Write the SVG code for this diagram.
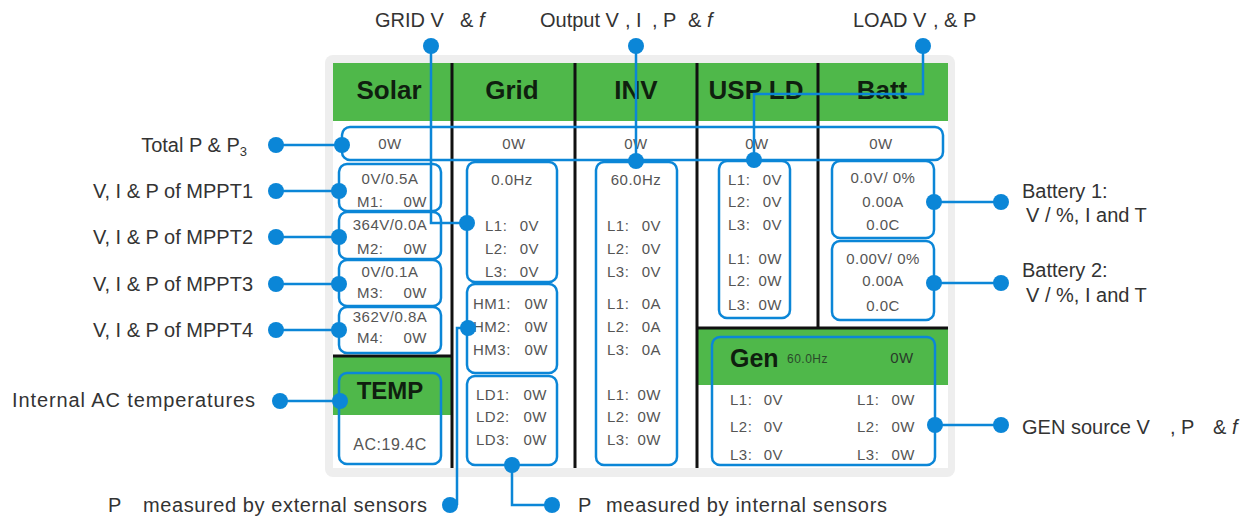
<svg xmlns="http://www.w3.org/2000/svg" width="1254" height="519" viewBox="0 0 1254 519">
<style>
.lbl{font-family:"Liberation Sans",Arial,sans-serif;font-size:20px;fill:#333}
.t{font-family:"Liberation Sans",Arial,sans-serif;font-size:15px;fill:#555;letter-spacing:0.5px}
.hd{font-family:"Liberation Sans",Arial,sans-serif;font-size:26px;font-weight:bold;fill:#0f1f0f;text-anchor:middle}
.m{text-anchor:middle}
.e{text-anchor:end}
.box{fill:none;stroke:#0b86d7;stroke-width:2.5}
.sep{stroke:#111;stroke-width:3}
.green{fill:#4fb84a}
.con{fill:none;stroke:#0b86d7;stroke-width:2.5}
.dot{fill:#0b86d7}
</style>

<g id="screen">
  <rect x="325" y="55" width="630" height="422" rx="8" fill="#eeeeee"/>
  <rect x="333" y="63" width="615" height="405" fill="#ffffff"/>
  <rect class="green" x="333" y="63" width="615" height="58"/>
  <rect class="green" x="333" y="357" width="119" height="58"/>
  <rect class="green" x="697" y="328" width="251" height="57"/>
  <line class="sep" x1="452" y1="63" x2="452" y2="468"/>
  <line class="sep" x1="575" y1="63" x2="575" y2="468"/>
  <line class="sep" x1="697" y1="63" x2="697" y2="468"/>
  <line class="sep" x1="818" y1="63" x2="818" y2="328"/>
  <line class="sep" x1="333" y1="356" x2="452" y2="356"/>
  <line class="sep" x1="697" y1="328" x2="948" y2="328"/>
  <text class="hd" x="389" y="99">Solar</text>
  <text class="hd" x="512" y="99">Grid</text>
  <text class="hd" x="636" y="99">INV</text>
  <text class="hd" x="756" y="99">USP LD</text>
  <text class="hd" x="882" y="99">Batt</text>
</g>

<g id="total-row">
  <rect class="box" x="342" y="127" width="601" height="33" rx="8"/>
  <text class="t m" x="390" y="149">0W</text>
  <text class="t m" x="514" y="149">0W</text>
  <text class="t m" x="636" y="149">0W</text>
  <text class="t m" x="757" y="149">0W</text>
  <text class="t m" x="881" y="149">0W</text>
</g>

<g id="mppt1">
  <rect class="box" x="339" y="164" width="102" height="47" rx="8"/>
  <text class="t m" x="390" y="184">0V/0.5A</text>
  <text class="t" x="357" y="207">M1:</text><text class="t e" x="427" y="207">0W</text>
</g>
<g id="mppt2">
  <rect class="box" x="339" y="212" width="102" height="47" rx="8"/>
  <text class="t m" x="390" y="230">364V/0.0A</text>
  <text class="t" x="357" y="254">M2:</text><text class="t e" x="427" y="254">0W</text>
</g>
<g id="mppt3">
  <rect class="box" x="339" y="260" width="102" height="46" rx="8"/>
  <text class="t m" x="390" y="277">0V/0.1A</text>
  <text class="t" x="357" y="298">M3:</text><text class="t e" x="427" y="298">0W</text>
</g>
<g id="mppt4">
  <rect class="box" x="339" y="307" width="102" height="46" rx="8"/>
  <text class="t m" x="390" y="322">362V/0.8A</text>
  <text class="t" x="357" y="343">M4:</text><text class="t e" x="427" y="343">0W</text>
</g>
<g id="temp">
  <rect class="box" x="339" y="373" width="102" height="91" rx="8"/>
  <text class="hd" x="390" y="399" style="font-size:24px">TEMP</text>
  <text class="t m" x="390" y="450" style="font-size:16px">AC:19.4C</text>
</g>

<g id="grid-box">
  <rect class="box" x="467" y="162" width="90" height="120" rx="8"/>
  <text class="t m" x="512" y="185">0.0Hz</text>
  <text class="t" x="485" y="231">L1:</text><text class="t e" x="539" y="231">0V</text>
  <text class="t" x="485" y="254">L2:</text><text class="t e" x="539" y="254">0V</text>
  <text class="t" x="485" y="277">L3:</text><text class="t e" x="539" y="277">0V</text>
</g>
<g id="hm-box">
  <rect class="box" x="467" y="284" width="90" height="89" rx="8"/>
  <text class="t" x="473" y="309">HM1:</text><text class="t e" x="548" y="309">0W</text>
  <text class="t" x="473" y="332">HM2:</text><text class="t e" x="548" y="332">0W</text>
  <text class="t" x="473" y="355">HM3:</text><text class="t e" x="548" y="355">0W</text>
</g>
<g id="ld-box">
  <rect class="box" x="467" y="376" width="90" height="89" rx="8"/>
  <text class="t" x="476" y="400">LD1:</text><text class="t e" x="547" y="400">0W</text>
  <text class="t" x="476" y="422">LD2:</text><text class="t e" x="547" y="422">0W</text>
  <text class="t" x="476" y="445">LD3:</text><text class="t e" x="547" y="445">0W</text>
</g>

<g id="inv-box">
  <rect class="box" x="596" y="162" width="81" height="303" rx="8"/>
  <text class="t m" x="636" y="185">60.0Hz</text>
  <text class="t" x="607" y="231">L1:</text><text class="t e" x="661" y="231">0V</text>
  <text class="t" x="607" y="254">L2:</text><text class="t e" x="661" y="254">0V</text>
  <text class="t" x="607" y="277">L3:</text><text class="t e" x="661" y="277">0V</text>
  <text class="t" x="607" y="309">L1:</text><text class="t e" x="661" y="309">0A</text>
  <text class="t" x="607" y="332">L2:</text><text class="t e" x="661" y="332">0A</text>
  <text class="t" x="607" y="355">L3:</text><text class="t e" x="661" y="355">0A</text>
  <text class="t" x="607" y="400">L1:</text><text class="t e" x="661" y="400">0W</text>
  <text class="t" x="607" y="422">L2:</text><text class="t e" x="661" y="422">0W</text>
  <text class="t" x="607" y="445">L3:</text><text class="t e" x="661" y="445">0W</text>
</g>

<g id="usp-box">
  <rect class="box" x="719" y="161" width="71" height="157" rx="8"/>
  <text class="t" x="728" y="185">L1:</text><text class="t e" x="782" y="185">0V</text>
  <text class="t" x="728" y="207">L2:</text><text class="t e" x="782" y="207">0V</text>
  <text class="t" x="728" y="230">L3:</text><text class="t e" x="782" y="230">0V</text>
  <text class="t" x="728" y="264">L1:</text><text class="t e" x="782" y="264">0W</text>
  <text class="t" x="728" y="286">L2:</text><text class="t e" x="782" y="286">0W</text>
  <text class="t" x="728" y="310">L3:</text><text class="t e" x="782" y="310">0W</text>
</g>

<g id="batt1">
  <rect class="box" x="832" y="161" width="102" height="77" rx="8"/>
  <text class="t m" x="883" y="183">0.0V/ 0%</text>
  <text class="t m" x="883" y="207">0.00A</text>
  <text class="t m" x="883" y="230">0.0C</text>
</g>
<g id="batt2">
  <rect class="box" x="832" y="241" width="102" height="79" rx="8"/>
  <text class="t m" x="883" y="264">0.00V/ 0%</text>
  <text class="t m" x="883" y="286">0.00A</text>
  <text class="t m" x="883" y="311">0.0C</text>
</g>

<g id="gen-box">
  <rect class="box" x="712" y="337" width="223" height="128" rx="8"/>
  <text class="hd" x="730" y="367" style="font-size:25px;text-anchor:start">Gen</text>
  <text class="t" x="787" y="363" style="font-size:12px;fill:#2a4a2a">60.0Hz</text>
  <text class="t m" x="902" y="363" style="fill:#2a3a2a">0W</text>
  <text class="t" x="730" y="405">L1:</text><text class="t e" x="783" y="405">0V</text>
  <text class="t" x="730" y="432">L2:</text><text class="t e" x="783" y="432">0V</text>
  <text class="t" x="730" y="460">L3:</text><text class="t e" x="783" y="460">0V</text>
  <text class="t" x="857" y="405">L1:</text><text class="t e" x="915" y="405">0W</text>
  <text class="t" x="857" y="432">L2:</text><text class="t e" x="915" y="432">0W</text>
  <text class="t" x="857" y="460">L3:</text><text class="t e" x="915" y="460">0W</text>
</g>

<g id="label-grid"><text class="lbl" x="375" y="27">GRID V<tspan x="460">&amp; </tspan><tspan font-style="italic">f</tspan></text></g>
<g id="label-output"><text class="lbl" x="540" y="27">Output V<tspan x="625">, I</tspan><tspan x="652">, P</tspan><tspan x="688">&amp; </tspan><tspan font-style="italic">f</tspan></text></g>
<g id="label-load"><text class="lbl" x="853" y="27">LOAD V<tspan x="933">, &amp; P</tspan></text></g>
<g id="label-total"><text class="lbl e" x="247" y="152">Total P &amp; P<tspan font-size="13" dy="4">3</tspan></text></g>
<g id="label-mppt1"><text class="lbl e" x="253" y="198">V, I &amp; P of MPPT1</text></g>
<g id="label-mppt2"><text class="lbl e" x="253" y="244">V, I &amp; P of MPPT2</text></g>
<g id="label-mppt3"><text class="lbl e" x="253" y="291">V, I &amp; P of MPPT3</text></g>
<g id="label-mppt4"><text class="lbl e" x="253" y="337">V, I &amp; P of MPPT4</text></g>
<g id="label-temp"><text class="lbl" x="12" y="407" textLength="243" lengthAdjust="spacing">Internal AC temperatures</text></g>
<g id="label-batt1"><text class="lbl" x="1022" y="198">Battery 1:</text><text class="lbl" x="1026" y="222">V / %, I and T</text></g>
<g id="label-batt2"><text class="lbl" x="1022" y="277">Battery 2:</text><text class="lbl" x="1026" y="302">V / %, I and T</text></g>
<g id="label-gen"><text class="lbl" x="1022" y="434">GEN source V<tspan x="1170">, P</tspan><tspan x="1213">&amp; </tspan><tspan font-style="italic">f</tspan></text></g>
<g id="label-external"><text class="lbl" x="108" y="512">P</text><text class="lbl" x="143" y="512" textLength="284" lengthAdjust="spacing">measured by external sensors</text></g>
<g id="label-internal"><text class="lbl" x="578" y="512">P</text><text class="lbl" x="606" y="512" textLength="281" lengthAdjust="spacing">measured by internal sensors</text></g>

<g id="connectors">
  <path class="con" d="M431,46 V223 H467"/>
  <path class="con" d="M636,46 V161"/>
  <path class="con" d="M923,46 V94 H754 V160"/>
  <path class="con" d="M276,145 H342"/>
  <path class="con" d="M276,191 H339"/>
  <path class="con" d="M276,237 H339"/>
  <path class="con" d="M276,284 H339"/>
  <path class="con" d="M276,330 H339"/>
  <path class="con" d="M280,401 H340"/>
  <path class="con" d="M934,202 H1001"/>
  <path class="con" d="M934,283 H1001"/>
  <path class="con" d="M935,425 H1001"/>
  <path class="con" d="M457,505 V328 H468"/>
  <path class="con" d="M512,465 V505 H552"/>
  <circle class="dot" cx="431" cy="46" r="8"/><circle class="dot" cx="467" cy="223" r="8"/>
  <circle class="dot" cx="636" cy="46" r="8"/><circle class="dot" cx="636" cy="161" r="8"/>
  <circle class="dot" cx="923" cy="46" r="8"/><circle class="dot" cx="754" cy="160" r="8"/>
  <circle class="dot" cx="276" cy="145" r="8"/><circle class="dot" cx="342" cy="145" r="8"/>
  <circle class="dot" cx="276" cy="191" r="8"/><circle class="dot" cx="339" cy="191" r="8"/>
  <circle class="dot" cx="276" cy="237" r="8"/><circle class="dot" cx="339" cy="237" r="8"/>
  <circle class="dot" cx="276" cy="284" r="8"/><circle class="dot" cx="339" cy="284" r="8"/>
  <circle class="dot" cx="276" cy="330" r="8"/><circle class="dot" cx="339" cy="330" r="8"/>
  <circle class="dot" cx="280" cy="401" r="8"/><circle class="dot" cx="340" cy="401" r="8"/>
  <circle class="dot" cx="934" cy="202" r="8"/><circle class="dot" cx="1001" cy="202" r="8"/>
  <circle class="dot" cx="934" cy="283" r="8"/><circle class="dot" cx="1001" cy="283" r="8"/>
  <circle class="dot" cx="935" cy="425" r="8"/><circle class="dot" cx="1001" cy="425" r="8"/>
  <circle class="dot" cx="450" cy="505" r="8"/><circle class="dot" cx="468" cy="328" r="8"/>
  <circle class="dot" cx="512" cy="465" r="8"/><circle class="dot" cx="552" cy="505" r="8"/>
</g>
</svg>
